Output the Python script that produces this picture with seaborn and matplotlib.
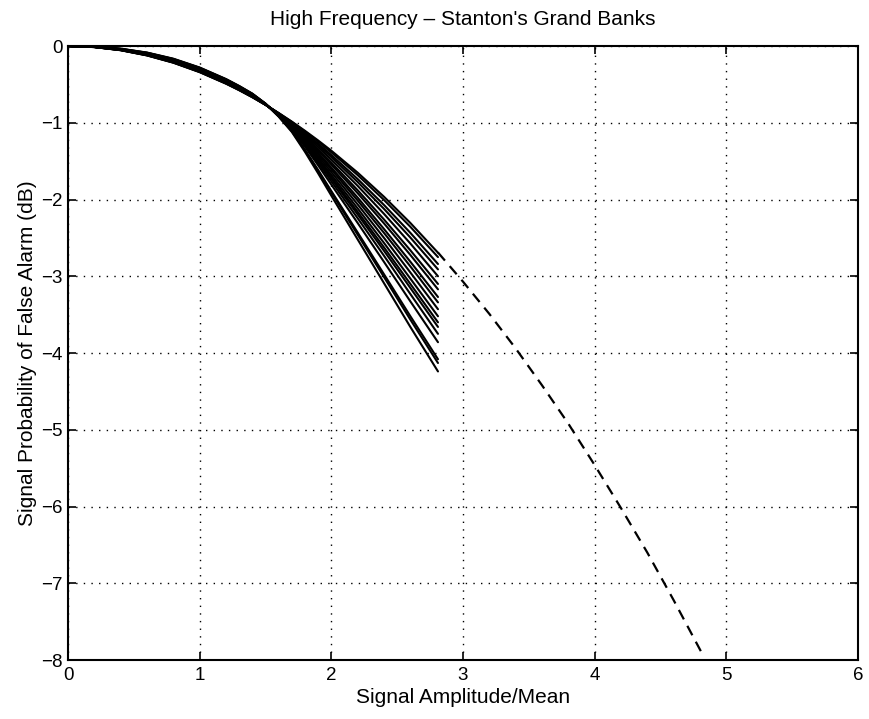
import matplotlib
matplotlib.use('Agg')
import matplotlib.pyplot as plt
import seaborn as sns
import pandas as pd

# ---------------- data ----------------
amplitude = [0, 0.2, 0.4, 0.6, 0.8, 1.0, 1.2, 1.3, 1.4, 1.5, 1.6, 1.7, 1.8, 1.9, 2.0, 2.2, 2.4, 2.6, 2.81]

curve_01 = [0, -0.014, -0.055, -0.123, -0.218, -0.341, -0.491, -0.576, -0.668, -0.767, -0.873, -0.985, -1.105, -1.231, -1.364, -1.650, -1.964, -2.305, -2.693]
curve_02 = [0, -0.014, -0.054, -0.122, -0.216, -0.339, -0.489, -0.574, -0.666, -0.766, -0.875, -0.990, -1.115, -1.247, -1.386, -1.682, -2.006, -2.355, -2.750]
curve_03 = [0, -0.013, -0.053, -0.119, -0.213, -0.335, -0.485, -0.571, -0.663, -0.765, -0.878, -0.998, -1.131, -1.272, -1.420, -1.733, -2.071, -2.434, -2.840]
curve_04 = [0, -0.013, -0.052, -0.118, -0.211, -0.333, -0.483, -0.568, -0.661, -0.765, -0.880, -1.004, -1.144, -1.291, -1.446, -1.772, -2.122, -2.495, -2.910]
curve_05 = [0, -0.013, -0.051, -0.116, -0.208, -0.329, -0.479, -0.565, -0.659, -0.764, -0.882, -1.012, -1.160, -1.316, -1.480, -1.822, -2.187, -2.573, -3.000]
curve_06 = [0, -0.012, -0.050, -0.113, -0.204, -0.325, -0.475, -0.561, -0.655, -0.763, -0.885, -1.021, -1.177, -1.344, -1.518, -1.879, -2.260, -2.661, -3.100]
curve_07 = [0, -0.012, -0.049, -0.111, -0.202, -0.322, -0.472, -0.559, -0.653, -0.762, -0.888, -1.027, -1.190, -1.363, -1.545, -1.918, -2.311, -2.722, -3.170]
curve_08 = [0, -0.012, -0.048, -0.109, -0.198, -0.318, -0.468, -0.555, -0.650, -0.761, -0.891, -1.035, -1.208, -1.391, -1.583, -1.975, -2.384, -2.810, -3.270]
curve_09 = [0, -0.011, -0.047, -0.107, -0.196, -0.316, -0.466, -0.553, -0.648, -0.760, -0.893, -1.041, -1.220, -1.410, -1.609, -2.014, -2.435, -2.871, -3.340]
curve_10 = [0, -0.011, -0.045, -0.105, -0.193, -0.312, -0.462, -0.549, -0.645, -0.759, -0.895, -1.049, -1.236, -1.435, -1.643, -2.064, -2.500, -2.950, -3.429]
curve_11 = [0, -0.011, -0.044, -0.103, -0.190, -0.308, -0.458, -0.546, -0.642, -0.758, -0.898, -1.057, -1.252, -1.461, -1.678, -2.116, -2.566, -3.030, -3.521]
curve_12 = [0, -0.010, -0.043, -0.101, -0.187, -0.305, -0.455, -0.543, -0.640, -0.757, -0.901, -1.064, -1.266, -1.482, -1.707, -2.160, -2.624, -3.099, -3.600]
curve_13 = [0, -0.010, -0.043, -0.099, -0.185, -0.303, -0.453, -0.541, -0.638, -0.756, -0.902, -1.069, -1.277, -1.499, -1.730, -2.194, -2.668, -3.152, -3.660]
curve_14 = [0, -0.010, -0.041, -0.097, -0.182, -0.299, -0.449, -0.538, -0.635, -0.755, -0.905, -1.077, -1.293, -1.524, -1.764, -2.244, -2.733, -3.231, -3.750]
curve_15 = [0, -0.010, -0.040, -0.094, -0.178, -0.295, -0.445, -0.534, -0.632, -0.754, -0.908, -1.087, -1.312, -1.555, -1.806, -2.306, -2.813, -3.327, -3.859]
curve_16 = [0, -0.009, -0.037, -0.089, -0.171, -0.286, -0.436, -0.526, -0.625, -0.752, -0.915, -1.106, -1.352, -1.616, -1.890, -2.430, -2.974, -3.520, -4.081]
curve_17 = [0, -0.008, -0.036, -0.088, -0.169, -0.284, -0.434, -0.524, -0.623, -0.751, -0.917, -1.110, -1.361, -1.630, -1.908, -2.458, -3.010, -3.564, -4.130]
curve_18 = [0, -0.008, -0.035, -0.085, -0.165, -0.280, -0.430, -0.520, -0.620, -0.750, -0.920, -1.120, -1.380, -1.660, -1.950, -2.520, -3.090, -3.660, -4.240]

rayleigh_amplitude = [2.81, 3.0, 3.2, 3.4, 3.6, 3.8, 4.0, 4.2, 4.4, 4.6, 4.83]
rayleigh_pfa = [-2.69, -3.07, -3.49, -3.94, -4.42, -4.92, -5.46, -6.02, -6.60, -7.22, -7.96]

x_ticks = [0, 1, 2, 3, 4, 5, 6]
y_ticks = [0, -1, -2, -3, -4, -5, -6, -7, -8]

title_text = "High Frequency \u2013 Stanton's Grand Banks"
x_label = "Signal Amplitude/Mean"
y_label = "Signal Probability of False Alarm (dB)"

# ---------------- build long-form table ----------------
solid_curves = [curve_01, curve_02, curve_03, curve_04, curve_05, curve_06,
                curve_07, curve_08, curve_09, curve_10, curve_11, curve_12,
                curve_13, curve_14, curve_15, curve_16, curve_17, curve_18]
rows = []
for i, ys in enumerate(solid_curves):
    for xv, yv in zip(amplitude, ys):
        rows.append({"amp": xv, "pfa": yv, "curve": i})
df = pd.DataFrame(rows)
df_ray = pd.DataFrame({"amp": rayleigh_amplitude, "pfa": rayleigh_pfa})

# ---------------- plot ----------------
sns.set_theme(style="white")
plt.rcParams['font.family'] = ['Liberation Sans', 'DejaVu Sans']

fig = plt.figure(figsize=(8.69, 7.19), dpi=100)
ax = fig.add_axes([0.0783, 0.082, 0.909, 0.854])

sns.lineplot(data=df, x="amp", y="pfa", units="curve", estimator=None,
             color="black", linewidth=1.5, ax=ax, legend=False)
sns.lineplot(data=df_ray, x="amp", y="pfa", color="black", linewidth=1.6,
             dashes=False, ax=ax, legend=False)
ax.lines[-1].set_dashes((4.8, 3.3))

ax.set_xlim(0, 6)
ax.set_ylim(-8, 0)
ax.set_xticks(x_ticks)
ax.set_yticks(y_ticks)
ax.set_xticklabels([str(v) for v in x_ticks])
ax.set_yticklabels([str(v).replace('-', '\u2212') for v in y_ticks])

ax.grid(True, color="black", linestyle=(0, (1, 4.5)), linewidth=1.0)
for s in ax.spines.values():
    s.set_visible(True)
    s.set_color("black")
    s.set_linewidth(1.5)

ax.tick_params(axis="both", which="major", direction="in", length=6, width=1.2,
               colors="black", labelsize=13.5, top=True, right=True,
               bottom=True, left=True)
ax.tick_params(axis="x", pad=5)
ax.tick_params(axis="y", pad=4)

ax.set_title(title_text, fontsize=15, pad=15, color="black")
ax.set_xlabel(x_label, fontsize=15, labelpad=3, color="black")
ax.set_ylabel(y_label, fontsize=15, labelpad=3, color="black")

fig.savefig("out.png", dpi=100)
